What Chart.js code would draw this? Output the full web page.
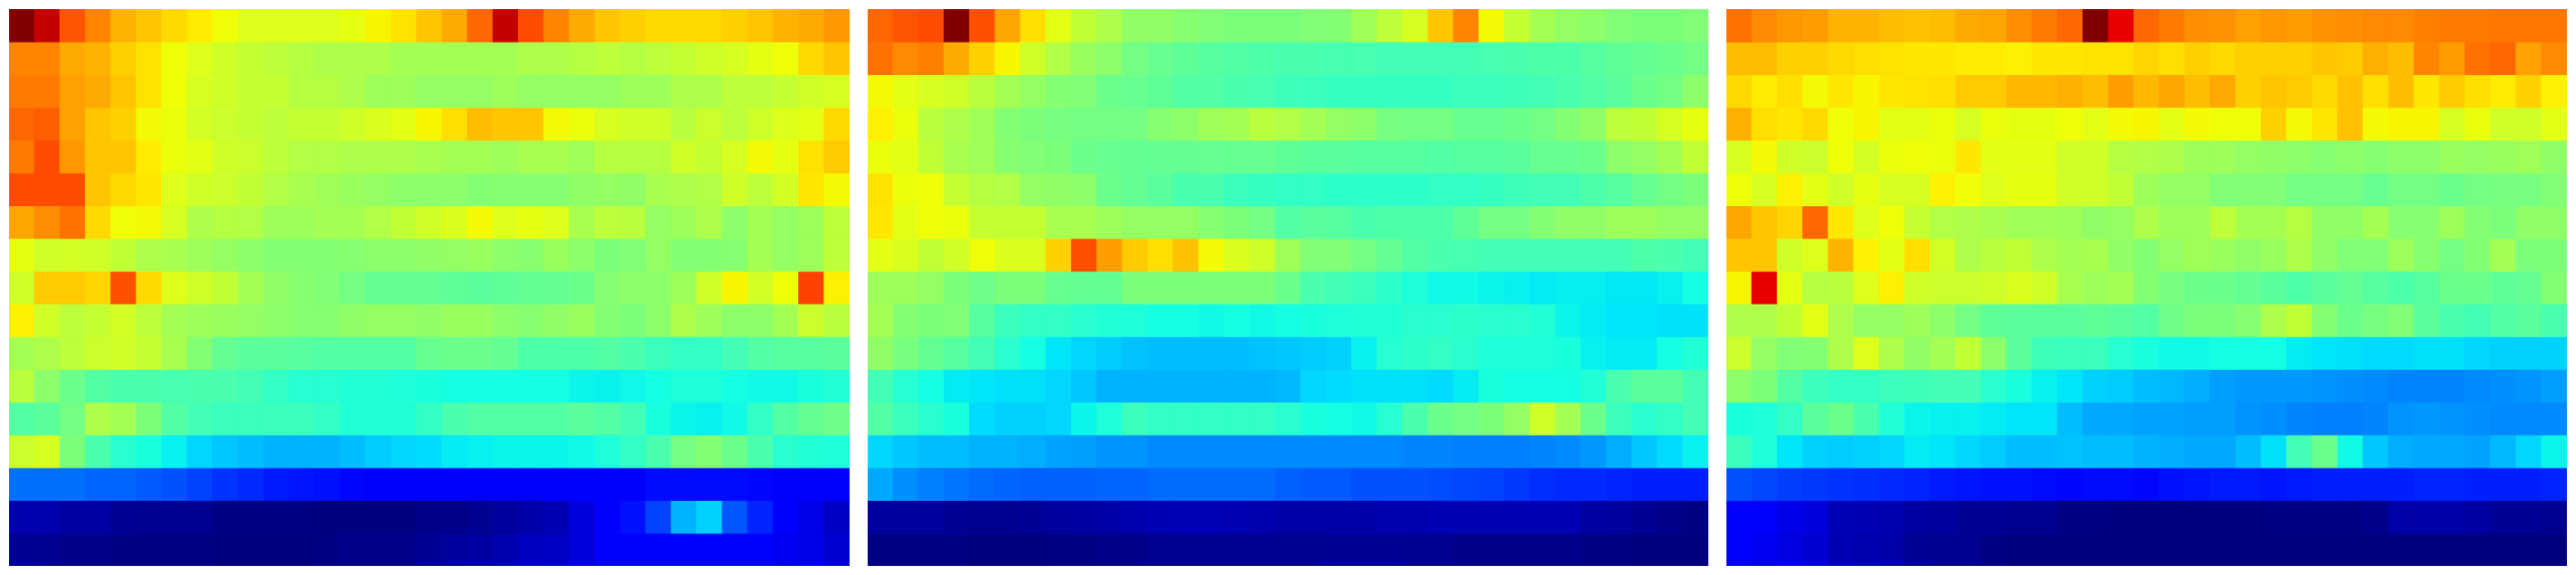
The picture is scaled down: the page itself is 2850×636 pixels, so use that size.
<!DOCTYPE html>
<html>
<head>
<meta charset="utf-8">
<style>
html,body{margin:0;padding:0;background:#fff;width:2850px;height:636px;overflow:hidden}
canvas{position:absolute;top:10px;display:block}
</style>
<script src="https://cdn.jsdelivr.net/npm/chart.js@4"></script>
</head>
<body>
<canvas id="c0" width="930" height="616" style="left:10px"></canvas>
<canvas id="c1" width="930" height="616" style="left:960px"></canvas>
<canvas id="c2" width="930" height="616" style="left:1910px"></canvas>
<script>
// Values per mille of the colour range; rows top to bottom, 33 columns each.
const columns = Array.from({length:33}, (_, i) => String(i + 1));
const panelA = [
[1000,940,820,770,720,700,680,660,640,620,620,620,620,630,650,670,700,730,800,940,830,770,730,700,690,680,680,680,690,700,720,730,750],
[770,770,730,720,690,670,640,620,600,590,580,570,560,560,560,550,550,550,550,550,560,560,570,580,570,580,590,600,610,630,640,680,700],
[780,780,740,730,700,670,640,610,600,590,590,570,570,560,540,540,530,530,530,540,530,530,530,530,540,540,560,560,580,580,590,600,610],
[800,810,740,700,690,645,635,605,595,590,580,590,590,600,615,625,650,675,710,700,700,645,635,610,600,600,575,595,580,600,620,625,680],
[780,830,750,700,700,660,635,625,600,595,580,565,565,560,560,560,555,550,550,540,555,555,545,570,570,570,600,590,610,645,630,670,695],
[830,830,830,700,680,665,620,600,595,585,565,555,545,535,530,520,520,520,510,515,515,515,525,530,525,555,560,565,600,580,605,665,645],
[735,760,790,680,640,645,610,560,570,565,540,540,550,550,565,585,600,615,645,620,630,620,555,580,575,530,540,560,520,550,530,540,580],
[630,600,605,600,585,560,555,540,530,520,510,510,510,515,520,520,525,530,535,520,515,535,520,500,505,530,510,510,515,550,530,540,580],
[600,695,695,685,825,680,620,600,585,550,525,515,505,490,470,470,470,465,460,465,470,470,480,515,520,520,540,600,650,605,640,840,655],
[655,600,580,590,605,580,550,540,535,530,520,515,515,525,530,530,525,535,535,520,515,525,535,510,500,520,560,540,520,520,550,595,575],
[550,560,580,595,600,590,555,510,470,460,460,455,450,450,450,450,475,480,480,470,445,445,445,450,440,420,410,410,430,450,455,455,460],
[575,520,480,450,440,440,435,440,440,430,410,395,395,390,390,385,380,375,375,375,375,375,365,362,368,375,385,385,375,370,370,380,390],
[450,460,490,560,550,500,450,430,420,420,420,420,410,390,390,390,410,440,450,450,450,450,460,450,430,380,365,360,370,410,450,470,485],
[595,610,500,440,400,380,360,335,320,310,300,300,300,310,325,335,340,355,360,365,365,365,370,385,410,440,490,510,480,440,400,390,385],
[235,235,235,225,225,215,205,190,175,165,150,145,140,130,125,120,120,120,120,120,120,120,120,125,125,135,135,135,135,130,125,125,125],
[40,40,30,30,20,15,15,15,5,5,5,5,0,0,0,0,10,10,15,25,35,45,80,110,140,190,300,330,210,160,110,90,60],
[20,15,10,8,5,5,5,5,0,0,0,0,5,10,10,10,20,25,30,40,55,60,80,110,110,110,110,110,110,110,100,90,70]
];
const panelB = [
[800,820,830,1000,825,735,675,625,585,560,525,525,515,505,500,500,500,505,510,545,580,610,700,770,645,590,550,530,520,505,500,500,505],
[790,765,775,730,690,650,600,565,535,520,490,475,465,455,450,445,440,440,435,435,430,430,430,430,435,440,445,445,455,465,470,480,490],
[645,625,610,600,575,550,530,510,505,480,475,465,450,450,440,435,425,420,415,415,415,415,415,420,420,425,430,440,450,460,480,490,520],
[655,635,575,560,545,510,500,495,490,490,490,515,520,545,550,575,565,550,530,520,495,490,490,475,475,480,490,510,525,580,585,610,630],
[635,625,585,555,545,515,505,500,480,475,470,470,470,475,475,475,465,460,460,455,455,455,450,455,455,460,475,475,480,520,530,550,585],
[670,635,640,590,570,565,530,525,520,480,470,460,440,440,420,415,410,410,405,405,405,405,410,410,415,425,430,430,445,455,475,490,500],
[665,625,640,635,590,590,590,555,555,540,530,530,530,515,500,490,450,460,455,440,445,445,445,465,490,490,510,525,525,540,540,530,530],
[625,615,585,600,640,615,615,690,825,745,695,675,705,645,615,600,545,505,505,490,470,450,440,435,430,430,430,430,430,430,445,440,430],
[540,540,530,500,485,500,500,475,470,470,500,500,500,500,500,500,480,440,430,420,405,385,370,370,365,360,355,358,358,352,352,360,375],
[550,510,500,505,455,420,410,410,400,390,385,375,375,370,375,370,375,380,385,390,390,400,400,405,400,400,390,365,355,350,350,345,345],
[525,495,470,455,430,400,375,350,335,325,315,310,310,310,310,315,320,325,330,360,395,405,410,400,385,385,385,380,360,355,355,375,390],
[430,395,375,355,350,345,345,335,320,300,300,300,300,300,300,300,305,335,340,345,345,345,340,355,380,375,375,375,390,440,460,460,430],
[450,420,400,380,340,330,330,335,365,385,420,410,410,410,410,410,400,380,375,370,395,440,480,490,500,530,600,550,480,420,400,410,430],
[335,320,310,310,300,300,295,285,280,270,270,260,260,260,260,260,260,260,260,260,260,255,255,250,250,250,255,260,275,295,320,340,360],
[290,265,250,240,230,225,220,220,220,225,225,230,230,230,230,230,220,215,215,205,205,205,200,195,190,180,170,165,165,160,155,155,155],
[25,25,25,20,15,15,20,25,30,35,40,45,50,50,45,40,35,35,35,35,40,40,45,45,45,45,45,45,30,25,20,10,5],
[5,5,5,5,0,0,0,5,5,10,10,15,15,15,15,15,15,15,20,20,20,15,15,10,10,10,10,10,5,5,0,0,0]
];
const panelC = [
[790,765,750,745,720,720,710,705,710,730,735,760,780,800,1000,910,800,780,760,755,740,750,745,755,760,765,765,775,780,780,785,785,785],
[710,710,690,690,680,675,670,665,665,660,660,655,665,665,670,670,685,675,690,680,690,690,690,700,695,725,710,770,745,790,800,740,765],
[680,660,675,645,665,650,665,670,675,695,695,715,715,725,710,745,715,735,710,730,690,700,695,680,705,675,710,665,695,675,660,690,655],
[725,675,665,680,640,650,625,625,635,610,635,630,630,640,625,645,650,625,645,640,640,690,645,665,705,645,650,650,610,635,600,600,625],
[610,645,600,595,640,605,635,640,635,665,625,625,625,600,600,570,565,560,540,540,530,525,520,515,520,515,520,520,535,530,535,545,525],
[640,610,655,625,600,630,610,610,655,640,620,630,630,600,600,585,540,530,530,505,505,505,490,490,490,475,490,490,480,490,495,495,505],
[735,700,685,800,665,620,640,590,565,560,555,545,545,540,525,530,560,540,540,580,550,550,570,525,525,550,515,515,540,510,500,525,525],
[700,700,600,620,720,655,625,675,605,560,575,585,560,550,555,525,510,530,545,535,525,535,560,525,505,505,540,515,490,510,550,500,500],
[650,910,625,570,575,620,655,600,595,595,600,615,600,555,540,550,510,495,480,480,470,460,445,460,470,455,445,455,480,480,465,470,510],
[560,560,585,625,560,530,530,540,520,490,465,460,460,460,465,460,450,485,500,500,515,560,585,510,480,495,505,460,440,430,450,460,440],
[595,530,505,510,560,620,560,525,550,585,520,460,425,420,420,395,380,370,370,375,375,375,355,350,345,340,340,345,345,335,330,330,330],
[520,500,450,420,410,410,420,425,430,430,400,380,360,350,330,325,310,305,295,280,275,275,275,270,265,260,255,255,255,260,265,270,280],
[380,385,410,460,480,440,390,365,360,360,355,350,350,310,290,290,285,285,280,280,270,265,255,250,250,255,270,275,270,265,260,260,260],
[420,385,350,330,325,330,335,355,350,335,325,310,310,315,310,310,300,295,290,290,310,345,430,480,370,320,295,290,290,285,305,335,365],
[205,195,185,180,175,170,165,160,150,145,140,140,135,130,135,135,130,140,145,150,150,145,150,155,155,155,155,160,160,155,155,155,160],
[110,110,90,80,50,45,40,30,25,20,20,15,15,5,5,0,0,0,0,0,0,5,5,5,5,10,35,35,35,30,20,20,15],
[110,100,85,70,45,40,35,20,15,15,5,0,0,0,0,0,0,0,0,0,0,0,0,0,0,0,0,0,0,0,0,0,0]
];

function lerpStops(stops, t) {
  for (let i = 1; i < stops.length; i++) {
    if (t <= stops[i][0]) {
      const a = stops[i - 1], b = stops[i];
      return a[1] + (b[1] - a[1]) * (t - a[0]) / (b[0] - a[0]);
    }
  }
  return stops[stops.length - 1][1];
}
const jetR = [[0,0],[0.35,0],[0.66,1],[0.89,1],[1,0.5]];
const jetG = [[0,0],[0.125,0],[0.375,1],[0.64,1],[0.91,0],[1,0]];
const jetB = [[0,0.5],[0.11,1],[0.34,1],[0.65,0],[1,0]];
function jet(v) {
  const t = v / 1000;
  const c = s => Math.round(255 * lerpStops(s, t));
  return `rgb(${c(jetR)},${c(jetG)},${c(jetB)})`;
}

[panelA, panelB, panelC].forEach((rows, p) => {
  new Chart(document.getElementById('c' + p), {
    type: 'bar',
    data: {
      labels: columns,
      datasets: rows.map((row, r) => ({
        data: row.map(() => [r, r + 1]),
        backgroundColor: row.map(jet),
        borderWidth: 0,
        inflateAmount: 0.5,
        barPercentage: 1,
        categoryPercentage: 1,
        grouped: false
      }))
    },
    options: {
      responsive: false,
      animation: false,
      events: [],
      layout: { padding: 0 },
      plugins: { legend: { display: false }, tooltip: { enabled: false }, title: { display: false } },
      scales: {
        x: { display: false, offset: true, grid: { display: false } },
        y: { display: false, min: 0, max: rows.length, reverse: true, grid: { display: false } }
      }
    }
  });
});
</script>
</body>
</html>
